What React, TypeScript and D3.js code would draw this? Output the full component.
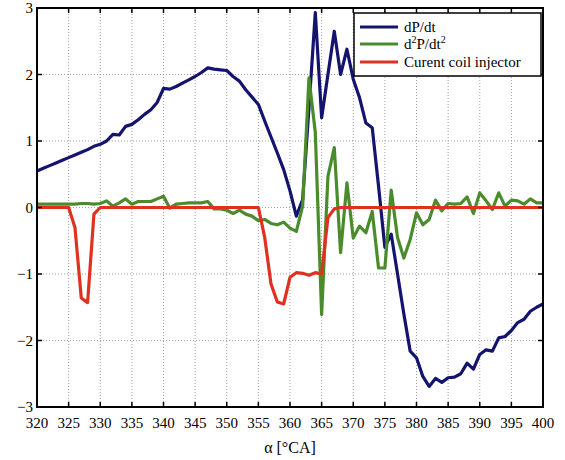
import React from "react";
import * as d3 from "d3";

const angles: number[] = d3.range(320, 401);

const dPdt: number[] = [
  0.55, 0.59, 0.63, 0.67, 0.71, 0.75, 0.79, 0.83, 0.87, 0.92,
  0.95, 1.0, 1.1, 1.09, 1.22, 1.25, 1.32, 1.4, 1.47, 1.58,
  1.79, 1.78, 1.82, 1.87, 1.92, 1.97, 2.03, 2.1, 2.08, 2.07,
  2.06, 1.97, 1.9, 1.77, 1.66, 1.55, 1.3, 1.06, 0.82, 0.57,
  0.25, -0.13, 0.12, 1.5, 2.93, 1.35, 2.0, 2.65, 2.0, 2.38,
  1.93, 1.65, 1.27, 1.2, 0.32, -0.6, -0.4, -1.0, -1.6, -2.16,
  -2.26, -2.54, -2.69, -2.57, -2.63, -2.56, -2.55, -2.5, -2.34, -2.43,
  -2.21, -2.14, -2.16, -1.96, -1.94, -1.85, -1.73, -1.68, -1.56, -1.5,
  -1.45,
];

const d2Pdt2: number[] = [
  0.05, 0.05, 0.05, 0.05, 0.05, 0.05, 0.05, 0.06, 0.06, 0.05,
  0.06, 0.1, 0.02, 0.07, 0.13, 0.05, 0.09, 0.09, 0.09, 0.13,
  0.17, -0.01, 0.05, 0.06, 0.07, 0.07, 0.07, 0.09, -0.02, -0.02,
  -0.04, -0.09, -0.04, -0.1, -0.13, -0.2, -0.18, -0.24, -0.26, -0.22,
  -0.31, -0.36, 0.02, 1.95, 1.13, -1.61, 0.47, 0.9, -0.68, 0.37,
  -0.46, -0.28, -0.38, -0.06, -0.91, -0.91, 0.26, -0.45, -0.76, -0.48,
  -0.08, -0.26, -0.18, 0.11, -0.05, 0.06, 0.05, 0.06, 0.16, -0.09,
  0.22, 0.1, -0.03, 0.22, 0.02, 0.11, 0.1, 0.05, 0.13, 0.07,
  0.07,
];

const coilCurrent: number[] = [
  0, 0, 0, 0, 0, 0, -0.3, -1.36, -1.43, -0.1,
  0, 0, 0, 0, 0, 0, 0, 0, 0, 0,
  0, 0, 0, 0, 0, 0, 0, 0, 0, 0,
  0, 0, 0, 0, 0, 0, -0.45, -1.15, -1.42, -1.45,
  -1.05, -0.98, -0.99, -1.02, -0.98, -1.0, -0.15, -0.02, 0, 0,
  0, 0, 0, 0, 0, 0, 0, 0, 0, 0,
  0, 0, 0, 0, 0, 0, 0, 0, 0, 0,
  0, 0, 0, 0, 0, 0, 0, 0, 0, 0,
  0,
];

const xTicks: number[] = d3.range(320, 401, 5);
const yTicks: number[] = [-3, -2, -1, 0, 1, 2, 3];

const seriesNames: string[] = ["dP/dt", "d2P/dt2", "Curent coil injector"];
const seriesColors: string[] = ["#14146e", "#4a8c2c", "#e03020"];

const W = 565;
const H = 460;
const L = 37;
const R = 543;
const T = 8;
const B = 407;
const FONT = '"Liberation Serif", "DejaVu Serif", "Times New Roman", serif';

export default function App() {
  const x = d3.scaleLinear().domain([320, 400]).range([L, R]);
  const y = d3.scaleLinear().domain([-3, 3]).range([B, T]);
  const line = d3
    .line<number>()
    .x((_, i) => x(angles[i]))
    .y((v) => y(v));
  const allSeries = [dPdt, d2Pdt2, coilCurrent];
  const drawOrder = [0, 1, 2];
  const tickLen = 5;
  const fmt = (v: number) => (v < 0 ? "\u2212" + Math.abs(v) : String(v));
  const ts: React.CSSProperties = { fontFamily: FONT };

  return (
    <svg
      width={W}
      height={H}
      style={{ position: "absolute", left: 0, top: 0, background: "#fff", fontFamily: FONT }}
    >
      <defs>
        <clipPath id="clip">
          <rect x={L} y={T - 2} width={R - L} height={B - T + 4} />
        </clipPath>
      </defs>
      <rect x={0} y={0} width={W} height={H} fill="#fff" />
      {xTicks.slice(1, -1).map((t) => (
        <line
          key={"gx" + t}
          x1={x(t)}
          x2={x(t)}
          y1={T}
          y2={B}
          stroke="#a0a0a0"
          strokeWidth={1}
          strokeDasharray="1,2"
        />
      ))}
      {yTicks.slice(1, -1).map((t) => (
        <line
          key={"gy" + t}
          x1={L}
          x2={R}
          y1={y(t)}
          y2={y(t)}
          stroke="#a0a0a0"
          strokeWidth={1}
          strokeDasharray="1,2"
        />
      ))}
      <g clipPath="url(#clip)">
        {drawOrder.map((k) => (
          <path
            key={"s" + k}
            d={line(allSeries[k]) || ""}
            fill="none"
            stroke={seriesColors[k]}
            strokeWidth={3.2}
            strokeLinejoin="round"
            strokeLinecap="round"
          />
        ))}
      </g>
      {xTicks.map((t) => (
        <g key={"tx" + t}>
          <line x1={x(t)} x2={x(t)} y1={B} y2={B - tickLen} stroke="#000" strokeWidth={1.5} />
          <line x1={x(t)} x2={x(t)} y1={T} y2={T + tickLen} stroke="#000" strokeWidth={1.5} />
          <text x={x(t)} y={428} fontSize={15} textAnchor="middle" fill="#000" style={ts}>
            {t}
          </text>
        </g>
      ))}
      {yTicks.map((t) => (
        <g key={"ty" + t}>
          <line x1={L} x2={L + tickLen} y1={y(t)} y2={y(t)} stroke="#000" strokeWidth={1.5} />
          <line x1={R} x2={R - tickLen} y1={y(t)} y2={y(t)} stroke="#000" strokeWidth={1.5} />
          <text x={33} y={y(t) + 5} fontSize={15} textAnchor="end" fill="#000" style={ts}>
            {fmt(t)}
          </text>
        </g>
      ))}
      <rect x={L} y={T} width={R - L} height={B - T} fill="none" stroke="#000" strokeWidth={2} />
      <text x={(L + R) / 2} y={453} fontSize={16} textAnchor="middle" fill="#000" style={ts}>
        {"\u03b1 [\u00b0CA]"}
      </text>
      <rect x={354} y={13} width={187} height={63} fill="#fff" stroke="#000" strokeWidth={1.5} />
      {[27, 44, 62].map((ly, i) => (
        <g key={"lg" + i}>
          <line x1={360} x2={398} y1={ly} y2={ly} stroke={seriesColors[i]} strokeWidth={3} />
          {i === 1 ? (
            <text x={404} y={ly + 5} fontSize={15} fill="#000" style={ts}>
              d<tspan fontSize={10} dy={-6}>2</tspan>
              <tspan dy={6}>P/dt</tspan>
              <tspan fontSize={10} dy={-6}>2</tspan>
            </text>
          ) : (
            <text x={404} y={ly + 5} fontSize={15} fill="#000" style={ts}>
              {seriesNames[i]}
            </text>
          )}
        </g>
      ))}
    </svg>
  );
}
